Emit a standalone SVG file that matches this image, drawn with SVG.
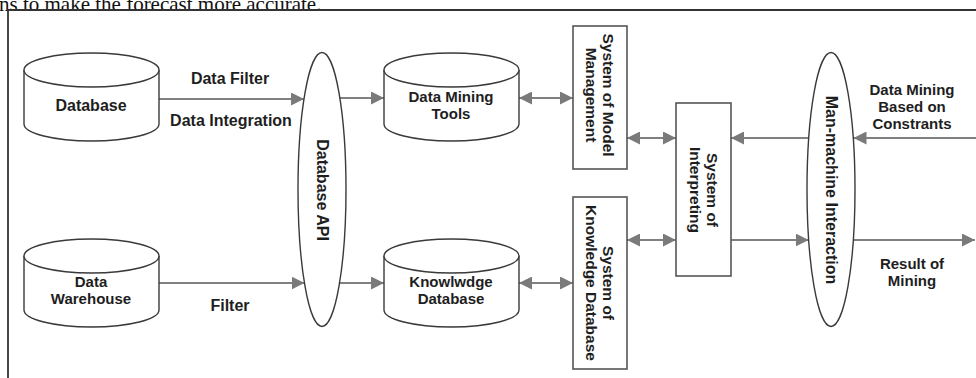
<svg xmlns="http://www.w3.org/2000/svg" width="976" height="378" viewBox="0 0 976 378">
<style>
.shape{fill:#fff;stroke:#3a3a3a;stroke-width:1.4}
.box{fill:#fff;stroke:#555;stroke-width:1.6}
.lbl{font-family:"Liberation Sans",Arial,sans-serif;font-weight:bold;font-size:16px;fill:#1e1e1e;text-anchor:middle;dominant-baseline:central}
.vl{font-size:15.5px}
.ml{font-size:15px}
.conn line{stroke:#808080;stroke-width:2}
.one{marker-end:url(#ah)}
.two{marker-start:url(#ah);marker-end:url(#ah)}
</style>
<defs>
<marker id="ah" markerUnits="userSpaceOnUse" markerWidth="13" markerHeight="13" refX="13" refY="6.5" orient="auto-start-reverse" viewBox="0 0 13 13">
<path d="M0,0 L13,6.5 L0,13 z" fill="#7a7a7a"/>
</marker>
</defs>
<rect width="976" height="378" fill="#fff"/>
<text x="-1" y="11" style="font-family:'Liberation Serif','Times New Roman',serif;font-size:21px;fill:#111">ns to make the forecast more accurate.</text>
<path d="M8,378 L8,10 L976,10" fill="none" stroke="#333" stroke-width="1.8"/>

<g class="conn">
<line class="one" x1="159" y1="99" x2="304" y2="99"/>
<line class="one" x1="340" y1="98" x2="384" y2="98"/>
<line class="two" x1="519" y1="98" x2="573" y2="98"/>
<line class="two" x1="627" y1="138" x2="676" y2="138"/>
<line class="one" x1="808.8" y1="138" x2="731" y2="138"/>
<line class="one" x1="976" y1="138" x2="853.5" y2="138"/>
<line class="one" x1="159" y1="283" x2="304.5" y2="283"/>
<line class="one" x1="340" y1="283" x2="384" y2="283"/>
<line class="two" x1="519" y1="283" x2="573" y2="283"/>
<line class="two" x1="627" y1="240" x2="676" y2="240"/>
<line class="one" x1="731" y1="240" x2="808.7" y2="240"/>
<line class="one" x1="853.3" y1="240" x2="975" y2="240"/>
<text class="lbl" x="230" y="78">Data Filter</text>
<text class="lbl" x="231" y="120">Data Integration</text>
<text class="lbl" x="230" y="305">Filter</text>
<text class="lbl ml" x="912" y="89">Data Mining</text>
<text class="lbl ml" x="912" y="106">Based on</text>
<text class="lbl ml" x="912" y="123">Constrants</text>
<text class="lbl ml" x="912" y="263">Result of</text>
<text class="lbl ml" x="912" y="280">Mining</text>
</g>

<g id="database">
<path class="shape" d="M24,70 L24,124 A67.5,17 0 0 0 159,124 L159,70"/>
<ellipse class="shape" cx="91.5" cy="70" rx="67.5" ry="17"/>
<text class="lbl" x="91" y="105">Database</text>
</g>

<g id="data-warehouse">
<path class="shape" d="M24,256 L24,310 A67.5,17 0 0 0 159,310 L159,256"/>
<ellipse class="shape" cx="91.5" cy="256" rx="67.5" ry="17"/>
<text class="lbl ml" x="91" y="281">Data</text>
<text class="lbl ml" x="91" y="298">Warehouse</text>
</g>

<g id="database-api">
<ellipse class="shape" cx="322" cy="189.5" rx="24" ry="137"/>
<text class="lbl" transform="translate(322,190) rotate(90)">Database API</text>
</g>

<g id="data-mining-tools">
<path class="shape" d="M384,70 L384,124 A67.5,17 0 0 0 519,124 L519,70"/>
<ellipse class="shape" cx="451.5" cy="70" rx="67.5" ry="17"/>
<text class="lbl ml" x="451" y="96">Data Mining</text>
<text class="lbl ml" x="451" y="113">Tools</text>
</g>

<g id="knowledge-database">
<path class="shape" d="M384,256 L384,310 A67.5,17 0 0 0 519,310 L519,256"/>
<ellipse class="shape" cx="451.5" cy="256" rx="67.5" ry="17"/>
<text class="lbl ml" x="451" y="281">Knowlwdge</text>
<text class="lbl ml" x="451" y="298">Database</text>
</g>

<g id="system-model-management">
<rect class="box" x="573" y="26" width="54" height="143"/>
<text class="lbl vl" transform="translate(608.5,95) rotate(90)">System of Model</text>
<text class="lbl vl" transform="translate(591.5,95) rotate(90)">Management</text>
</g>

<g id="system-knowledge-database">
<rect class="box" x="573" y="197" width="54" height="172"/>
<text class="lbl vl" transform="translate(608.5,283) rotate(90)">System of</text>
<text class="lbl vl" transform="translate(591.5,283) rotate(90)">Knowledge Database</text>
</g>

<g id="system-interpreting">
<rect class="box" x="676" y="103" width="55" height="173"/>
<text class="lbl vl" transform="translate(712,190) rotate(90)">System of</text>
<text class="lbl vl" transform="translate(695,190) rotate(90)">Interpreting</text>
</g>

<g id="man-machine-interaction">
<ellipse class="shape" cx="831" cy="189.5" rx="24" ry="137"/>
<text class="lbl" transform="translate(831,190) rotate(90)">Man-machine Interaction</text>
</g>
</svg>
